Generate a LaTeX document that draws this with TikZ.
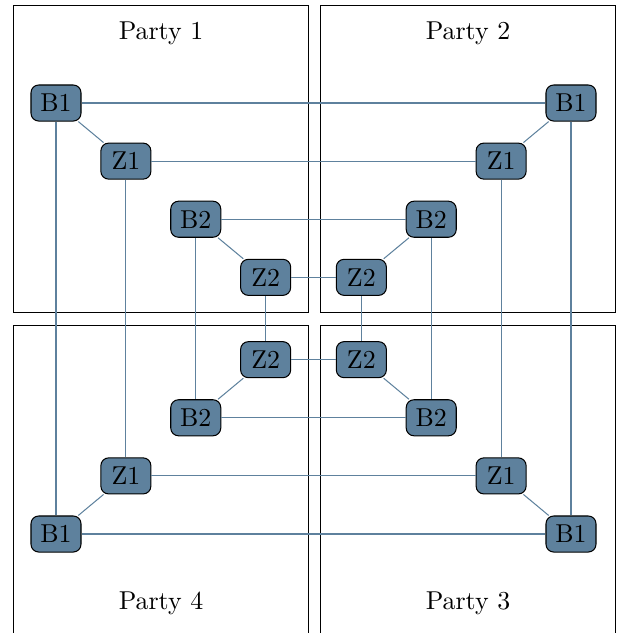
\documentclass[tikz,border=0pt]{standalone}
\usetikzlibrary{positioning}
\definecolor{partyblue}{RGB}{94,129,157}

\tikzset{
  share/.style={draw,fill=partyblue,rounded corners=3pt,minimum width=0.68cm,minimum height=0.49cm,inner sep=2pt},
  link/.style={partyblue,line width=0.4pt},
  partybox/.style={draw,line width=0.3pt}
}

\begin{document}
\begin{tikzpicture}[x=0.0136cm,y=-0.0136cm,node distance=0.286cm and 0.256cm]
        \useasboundingbox (0,0) rectangle (621,633);
        \clip (0,0) rectangle (621,633);
        % the four parties
        \draw[partybox] (13,5) rectangle (308,312);
        \draw[partybox] (320,5) rectangle (615,312);
        \draw[partybox] (13,325) rectangle (308,645);
        \draw[partybox] (320,325) rectangle (615,645);
        \node (p1) at (161,33) {Party 1};
        \node (p2) at (468,33) {Party 2};
        \node (p4) at (161,603) {Party 4};
        \node (p3) at (468,603) {Party 3};
        % party 1
        \node[share] (b1a) at (56,103) {B1};
        \node[share,below right=of b1a] (z1a) {Z1};
        \node[share,below right=of z1a] (b2a) {B2};
        \node[share,below right=of b2a] (z2a) {Z2};
        % party 2
        \node[share] (b1b) at (571,103) {B1};
        \node[share,below left=of b1b] (z1b) {Z1};
        \node[share,below left=of z1b] (b2b) {B2};
        \node[share,below left=of b2b] (z2b) {Z2};
        % party 3
        \node[share] (b1c) at (571,534) {B1};
        \node[share,above left=of b1c] (z1c) {Z1};
        \node[share,above left=of z1c] (b2c) {B2};
        \node[share,above left=of b2c] (z2c) {Z2};
        % party 4
        \node[share] (b1d) at (56,534) {B1};
        \node[share,above right=of b1d] (z1d) {Z1};
        \node[share,above right=of z1d] (b2d) {B2};
        \node[share,above right=of b2d] (z2d) {Z2};
        % links inside a party
        \draw[link] (b1a) -- (z1a);
        \draw[link] (b2a) -- (z2a);
        \draw[link] (b1b) -- (z1b);
        \draw[link] (b2b) -- (z2b);
        \draw[link] (b1c) -- (z1c);
        \draw[link] (b2c) -- (z2c);
        \draw[link] (b1d) -- (z1d);
        \draw[link] (b2d) -- (z2d);
        % links across parties
        \draw[link] (b1a) -- (b1b);
        \draw[link] (z1a) -- (z1b);
        \draw[link] (b2a) -- (b2b);
        \draw[link] (z2a) -- (z2b);
        \draw[link] (b1d) -- (b1c);
        \draw[link] (z1d) -- (z1c);
        \draw[link] (b2d) -- (b2c);
        \draw[link] (z2d) -- (z2c);
        \draw[link] (b1a) -- (b1d);
        \draw[link] (z1a) -- (z1d);
        \draw[link] (b2a) -- (b2d);
        \draw[link] (z2a) -- (z2d);
        \draw[link] (b1b) -- (b1c);
        \draw[link] (z1b) -- (z1c);
        \draw[link] (b2b) -- (b2c);
        \draw[link] (z2b) -- (z2c);
    \end{tikzpicture}
\end{document}
